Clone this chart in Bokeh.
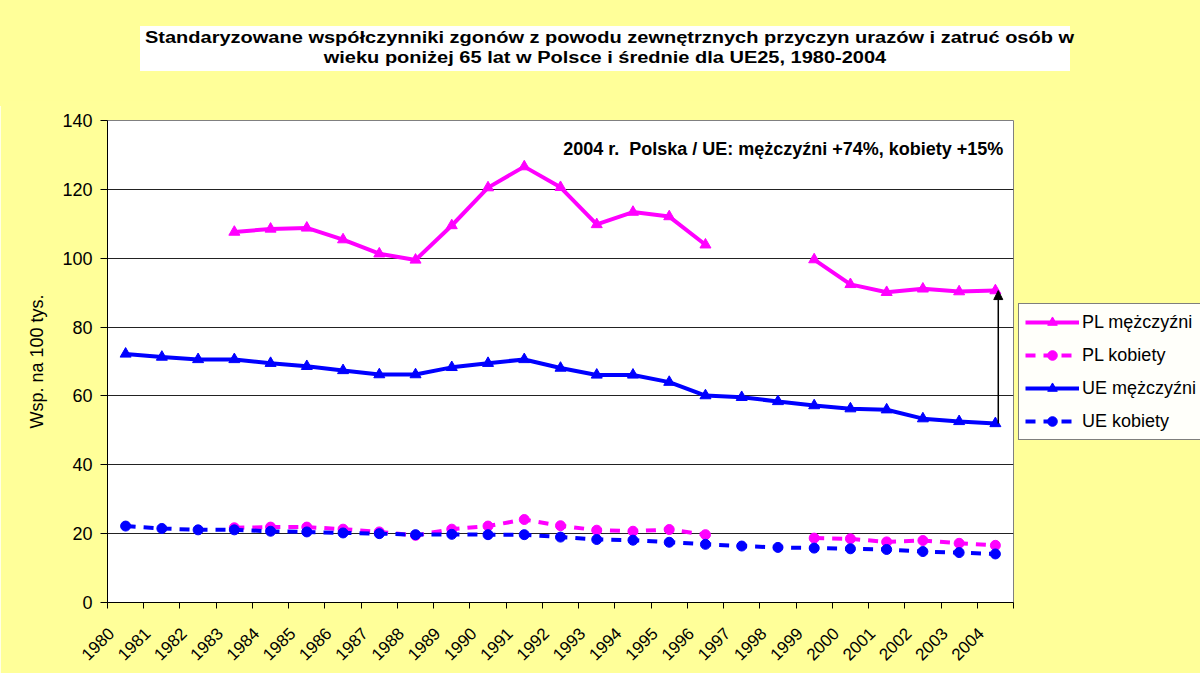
import math
from bokeh.plotting import figure
from bokeh.layouts import column
from bokeh.models import (Range1d, FixedTicker, Label, Legend, LegendItem, Arrow,
                          NormalHead, CustomJSTickFormatter, Div)
from bokeh.embed import file_html
from bokeh.resources import INLINE

nan = float("nan")

years = ["1980", "1981", "1982", "1983", "1984", "1985", "1986", "1987", "1988",
         "1989", "1990", "1991", "1992", "1993", "1994", "1995", "1996", "1997",
         "1998", "1999", "2000", "2001", "2002", "2003", "2004"]

pl_men = [nan, nan, nan, 107.6, 108.5, 108.8, 105.4, 101.3, 99.5, 109.5, 120.5,
          126.6, 120.6, 109.8, 113.4, 112.1, 103.9, nan, nan, 99.6, 92.4, 90.1,
          91.1, 90.3, 90.6]
pl_women = [nan, nan, nan, 21.7, 21.9, 21.9, 21.3, 20.5, 19.5, 21.3, 22.2, 24.1,
            22.3, 21.0, 20.7, 21.2, 19.7, nan, nan, 18.7, 18.5, 17.6, 18.0, 17.2,
            16.6]
ue_men = [72.2, 71.3, 70.6, 70.6, 69.5, 68.6, 67.4, 66.2, 66.2, 68.3, 69.5, 70.6,
          68.1, 66.1, 66.1, 64.0, 60.1, 59.6, 58.4, 57.2, 56.3, 56.0, 53.4, 52.6,
          52.0]
ue_women = [22.2, 21.5, 21.1, 21.1, 20.7, 20.5, 20.2, 20.0, 19.7, 19.8, 19.7, 19.7,
            19.0, 18.3, 18.1, 17.5, 16.9, 16.4, 16.0, 15.8, 15.6, 15.4, 14.8, 14.5,
            14.1]

series_names = ["PL mężczyźni", "PL kobiety", "UE mężczyźni", "UE kobiety"]
y_ticks = [0, 20, 40, 60, 80, 100, 120, 140]

title_line1 = "Standaryzowane współczynniki zgonów z powodu zewnętrznych przyczyn urazów i zatruć osób w"
title_line2 = "wieku poniżej 65 lat w Polsce i średnie dla UE25, 1980-2004"
note_text = "2004 r.  Polska / UE: mężczyźni +74%, kobiety +15%"
y_label = "Wsp. na 100 tys."

FONT = "Liberation Sans"
YELLOW = "#FFFF99"
MAGENTA = "#FF00FF"
BLUE = "#0000FF"

xs = list(range(len(years)))
n = len(years)

# ---- title block (HTML) ----
DIV_H = 100
SCALE = 1.25
INNER_W = int(920 / SCALE)
title_html = f"""
<div style="position:relative;width:1200px;height:{DIV_H + 6}px;background:{YELLOW};">
  <div style="position:absolute;left:140px;top:26px;width:930px;height:45px;
              background:white;"></div>
  <div style="position:absolute;left:{605 - INNER_W // 2}px;top:28px;width:{INNER_W}px;
              transform:scaleX({SCALE});transform-origin:center top;
              font-family:'{FONT}';font-weight:bold;font-size:16px;line-height:20px;
              color:black;">
    <div style="text-align:justify;text-align-last:justify;white-space:nowrap;">{title_line1}</div>
    <div style="text-align:center;white-space:nowrap;">{title_line2}</div>
  </div>
</div>
"""
title_div = Div(text=title_html, width=1200, height=DIV_H, margin=0,
                styles={"background-color": YELLOW, "overflow": "visible"})

p = figure(width=1200, height=673 - DIV_H, output_backend="svg", toolbar_location=None,
           frame_width=906, frame_height=482,
           x_range=Range1d(-0.5, n - 0.5), y_range=Range1d(0, 140),
           min_border_left=107, min_border_right=187, min_border_top=120 - DIV_H,
           min_border_bottom=71, margin=0)
p.background_fill_color = "white"
p.border_fill_color = YELLOW
p.outline_line_color = "#808080"
p.outline_line_width = 1

# x axis: labels shifted slightly left of category centres, ticks at boundaries
LBL_SHIFT = 0.4
p.xaxis.ticker = FixedTicker(ticks=[i - LBL_SHIFT for i in xs],
                             minor_ticks=[i - 0.5 for i in range(n + 1)])
p.xaxis.formatter = CustomJSTickFormatter(args=dict(labels=years, s=LBL_SHIFT),
                                          code="return labels[Math.round(tick + s)] || '';")
p.xaxis.major_label_orientation = math.pi / 4
p.xaxis.major_tick_line_color = None
p.xaxis.minor_tick_line_color = "black"
p.xaxis.minor_tick_out = 6
p.xaxis.minor_tick_in = 0
p.xaxis.axis_line_color = "black"
p.xaxis.major_label_text_font = FONT
p.xaxis.major_label_text_font_size = "17px"
p.xaxis.major_label_text_color = "black"
p.xaxis.major_label_standoff = 22

p.yaxis.ticker = FixedTicker(ticks=y_ticks)
p.yaxis.minor_tick_line_color = None
p.yaxis.major_tick_out = 7
p.yaxis.major_tick_in = 0
p.yaxis.major_tick_line_color = "black"
p.yaxis.axis_line_color = "black"
p.yaxis.major_label_text_font = FONT
p.yaxis.major_label_text_font_size = "18px"
p.yaxis.major_label_text_color = "black"
p.yaxis.major_label_standoff = 8
p.yaxis.axis_label = y_label
p.yaxis.axis_label_text_font = FONT
p.yaxis.axis_label_text_font_size = "18px"
p.yaxis.axis_label_text_font_style = "normal"
p.yaxis.axis_label_text_color = "black"
p.yaxis.axis_label_standoff = 12

p.xgrid.grid_line_color = None
p.ygrid.ticker = FixedTicker(ticks=y_ticks)
p.ygrid.grid_line_color = "#222222"
p.ygrid.grid_line_width = 1

# series
r1l = p.line(xs, pl_men, line_color=MAGENTA, line_width=4)
r1m = p.scatter(xs, pl_men, marker="triangle", size=11, fill_color=MAGENTA, line_color=MAGENTA)
r2l = p.line(xs, pl_women, line_color=MAGENTA, line_width=4, line_dash="10 8")
r2m = p.scatter(xs, pl_women, marker="circle", size=10, fill_color=MAGENTA, line_color=MAGENTA)
r3l = p.line(xs, ue_men, line_color=BLUE, line_width=4)
r3m = p.scatter(xs, ue_men, marker="triangle", size=11, fill_color=BLUE, line_color=BLUE)
r4l = p.line(xs, ue_women, line_color=BLUE, line_width=4, line_dash="10 8")
r4m = p.scatter(xs, ue_women, marker="circle", size=10, fill_color=BLUE, line_color=BLUE)

# arrow from EU men to PL men in 2004
last = n - 1
p.add_layout(Arrow(end=NormalHead(size=9, fill_color="black", line_color="black"),
                   x_start=last + 0.08, y_start=ue_men[last],
                   x_end=last + 0.08, y_end=pl_men[last],
                   line_color="black", line_width=1.5))

# note
p.add_layout(Label(x=last + 0.22, y=131.6, text=note_text.replace("  ", " \u00a0"),
                   text_align="right", text_baseline="middle", text_font=FONT,
                   text_font_size="18px", text_font_style="bold", text_color="black"))

legend = Legend(items=[
    LegendItem(label=series_names[0], renderers=[r1l, r1m]),
    LegendItem(label=series_names[1], renderers=[r2l, r2m]),
    LegendItem(label=series_names[2], renderers=[r3l, r3m]),
    LegendItem(label=series_names[3], renderers=[r4l, r4m]),
], location=(5, 162))
legend.label_text_font = FONT
legend.label_text_font_size = "18px"
legend.label_text_color = "black"
legend.border_line_color = "black"
legend.border_line_width = 1.5
legend.background_fill_color = "white"
legend.glyph_width = 54
legend.glyph_height = 24
legend.label_height = 24
legend.spacing = 9
legend.padding = 6
legend.margin = 0
legend.label_standoff = 3
p.add_layout(legend, "right")

page = column(title_div, p, spacing=0, margin=0)
open("out.html", "w").write(file_html(page, INLINE))
